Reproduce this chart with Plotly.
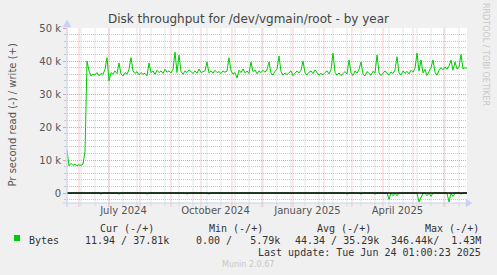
import plotly.graph_objects as go
import pandas as pd

# ---------------- data ----------------
range_start = "2024-05-20 01:00"
range_end = "2025-06-24 01:00"

# write (+) bytes/s in thousands, one value every 2 days from range_start
write_k = [
    13, 8.2, 9, 8.4, 8.7, 8.3, 8.6, 8.4, 8.8, 12.5,
    40, 37, 35.5, 36, 35.8, 36.5, 35.5, 36.2, 36, 37.5,
    41, 34, 36.5, 36, 37, 36.2, 39.4, 36, 35.5, 36.5,
    36, 37.5, 41, 37, 36.2, 36.8, 35.8, 36.5, 36, 36.3,
    35.5, 39.4, 36.5, 37, 36, 37.2, 36.5, 37, 36.2, 37.5,
    36.6, 37, 36.4, 37.5, 42.7, 36.5, 41.8, 36.8, 36, 37,
    36.5, 37.3, 36.8, 36.2, 37, 36.3, 37.6, 36.5, 36.8, 37,
    39.7, 36.4, 37, 36.3, 37.2, 36.5, 36.8, 36.2, 37, 36.6,
    36.9, 41, 37, 36, 36.5, 34.8, 37.2, 36.5, 37.6, 36.4,
    37, 36.2, 39.7, 36.8, 37.3, 36.1, 37, 36.5, 37.2, 36.6,
    37.4, 39.7, 36.3, 35.8, 36.9, 37.5, 41.5, 36.8, 35.7, 36.4,
    35.9, 36.6, 37, 35.6, 36.2, 37, 36.4, 37.2, 40, 36.4,
    35.8, 36.6, 37, 36.2, 37.3, 36.5, 35.7, 36.3, 35.8, 36.5,
    37, 36.1, 37.4, 42.4, 36.6, 35.7, 36.4, 35.6, 36.3, 36.8,
    36.1, 40.3, 36.5, 35.6, 37, 36.3, 37.5, 39.7, 36, 35.5,
    36.8, 36.2, 35.7, 36.9, 36.3, 41.8, 36.5, 35.6, 36.4, 37,
    36.2, 35.8, 36.7, 36.2, 37.3, 41.3, 36.4, 35.8, 37, 36.3,
    36.9, 36.1, 37.2, 36.6, 37.8, 42.4, 37, 40.3, 36.4, 37.5,
    35.6, 37.1, 38, 40.3, 36.6, 35.7, 37.2, 38, 37.3, 38.2,
    37.5, 38.5, 40.3, 37.2, 39.7, 37.6, 38, 42, 37.6, 38,
    37.8,
]

# read (-) bytes/s in thousands, same sampling
read_k = [
    0, 0, 0, 0, 0, 0, 0, 0, 0, 0,
    0, 0, 0, 0, 0, 0, 0, 0.3, 0, 0,
    0, 0, 0, 0, 0, 0, 0.3, 0, 0, 0,
    0, 0, 0, 0, 0, 0, 0, 0, 0, 0,
    0.3, 0, 0, 0, 0, 0, 0, 0, 0, 0,
    0, 0, 0, 0, 0, 0, 0, 0, 0, 0,
    0.3, 0, 0, 0, 0, 0, 0, 0, 0, 0,
    0, 0.3, 0, 0, 0, 0, 0, 0, 0, 0,
    0, 0, 0, 0, 0, 0, 0, 0, 0, 0,
    0, 0, 0, 0, 0, 0, 0, 0, 0, 0,
    0, 0, 0, 0, 0, 0, 0, 0, 0, 0,
    0, 0, 0, 0, 0, 0, 0, 0, 0, 0,
    0, 0, 0, 0, 0, 0, 0, 0, 0, 0,
    0, 0, 0, 0, 0, 0, 0, 0, 0, 0,
    0.3, 0, 0, 0, 0, 0, 0, 0.3, 0, 0,
    0, 0, 0, 0, 0.3, 0, 0, 0, 0, 0,
    0, 1.9, 0, 0.8, 0, 0.8, 0, 0, 0, 0,
    0, 0, 0, 0, 0, 0, 2.7, 1.5, 0, 0,
    0.8, 0, 1.0, 0, 0, 0, 0, 0, 0, 0,
    0, 2.7, 0, 1.0, 0, 0, 0, 0.3, 0, 0,
    0,
]

y_tickvals = [0, 10000, 20000, 30000, 40000, 50000]
y_ticktext = ["0", "10 k", "20 k", "30 k", "40 k", "50 k"]
x_tickvals = ["2024-07-15 12:00", "2024-10-15 12:00", "2025-01-15 12:00", "2025-04-15 12:00"]
x_ticktext = ["July 2024", "October 2024", "January 2025", "April 2025"]

month_lines = pd.date_range("2024-06-01", "2025-06-01", freq="MS")
minor_lines = pd.date_range("2024-06-03", "2025-06-24", freq="14D")

legend_head = ["Cur (-/+)", "Min (-/+)", "Avg (-/+)", "Max (-/+)"]
legend_vals = ["11.94 / 37.81k", "0.00 /   5.79k", "44.34 / 35.29k", "346.44k/  1.43M"]

# ---------------- geometry ----------------
W, H = 497, 275
L, R, T, B = 67, 30, 28, 72
PW, PH = W - L - R, H - T - B

def px(x):
    return (x - L) / PW

def py(y):
    return (H - B - y) / PH

dates = pd.date_range(start=range_start, periods=len(write_k), freq="2D")
green = "#00CC00"

fig = go.Figure()
fig.add_trace(go.Scatter(x=dates, y=[v * 1000 for v in write_k], mode="lines",
                         line=dict(color=green, width=1), hoverinfo="skip", showlegend=False))
fig.add_trace(go.Scatter(x=dates, y=[-v * 1000 for v in read_k], mode="lines",
                         line=dict(color=green, width=1), hoverinfo="skip", showlegend=False))

shapes = []
for d in minor_lines:
    shapes.append(dict(type="line", xref="x", yref="paper", x0=d, x1=d, y0=-0.02, y1=1,
                       line=dict(color="#C8C8C8", width=1, dash="1px,1px"), layer="below"))
for d in month_lines:
    shapes.append(dict(type="line", xref="x", yref="paper", x0=d, x1=d, y0=-0.02, y1=1,
                       line=dict(color="#E8A0A0", width=1, dash="1px,1px"), layer="below"))
# zero rule
shapes.append(dict(type="line", xref="paper", yref="y", x0=0, x1=1, y0=0, y1=0,
                   line=dict(color="#000000", width=1.5), layer="above"))
axis_col = "#C8D2F4"
# axes with arrows
shapes.append(dict(type="line", xref="paper", yref="paper", x0=px(63), x1=px(468), y0=0, y1=0,
                   line=dict(color=axis_col, width=1.2)))
shapes.append(dict(type="line", xref="paper", yref="paper", x0=0, x1=0, y0=py(207), y1=py(25),
                   line=dict(color=axis_col, width=1.2)))
shapes.append(dict(type="path", xref="paper", yref="paper",
                   path=f"M {px(472)},{py(203)} L {px(466)},{py(199)} L {px(466)},{py(207)} Z",
                   fillcolor=axis_col, line=dict(color=axis_col, width=0.5)))
shapes.append(dict(type="path", xref="paper", yref="paper",
                   path=f"M {px(67)},{py(20)} L {px(63)},{py(27)} L {px(71)},{py(27)} Z",
                   fillcolor=axis_col, line=dict(color=axis_col, width=0.5)))
# legend colour box
shapes.append(dict(type="rect", xref="paper", yref="paper", x0=px(14), x1=px(20), y0=py(241), y1=py(235),
                   fillcolor=green, line=dict(width=0)))

mono = "DejaVu Sans Mono"
sans = "DejaVu Sans"
txt_col = "#333333"

ann = []
def a(text, x, y, anchor="left", size=10, font=mono, color=txt_col, angle=0):
    ann.append(dict(text=text.replace(" ", "\u00a0"), x=px(x), y=py(y), xref="paper", yref="paper",
                    xanchor=anchor, yanchor="middle", showarrow=False, textangle=angle,
                    font=dict(family=font, size=size, color=color)))

for t, x in zip(legend_head, [98, 207, 315, 423]):
    a(t, x, 228)
a("Bytes", 27, 240)
a(legend_vals[0], 83, 240)
a(legend_vals[1], 194, 240)
a(legend_vals[2], 293, 240)
a(legend_vals[3], 483, 240, anchor="right")
a("Last update: Tue Jun 24 01:00:23 2025", 483, 252, anchor="right")
a("Munin 2.0.67", 248, 264, anchor="center", size=8, font=sans, color="#C8C8C8")
a("RRDTOOL / TOBI OETIKER", 486, 54, anchor="center", size=8, font=sans, color="#C8C8C8", angle=90)
a("Pr second read (-) / write (+)", 11.5, 115, anchor="center", size=10, font=sans, color="#555555", angle=-90)

fig.update_layout(
    width=W, height=H,
    margin=dict(l=L, r=R, t=T, b=B, pad=0),
    paper_bgcolor="#F0F0F0", plot_bgcolor="#FFFFFF",
    title=dict(text="Disk throughput for /dev/vgmain/root - by year", x=0.5, xanchor="center",
               y=1 - 19 / H, yanchor="middle", yref="container",
               font=dict(family=sans, size=12, color="#444444")),
    shapes=shapes, annotations=ann,
    xaxis=dict(type="date", range=[range_start, range_end], showgrid=False, zeroline=False,
               showline=False, tickvals=x_tickvals, ticktext=x_ticktext, ticks="",
               tickfont=dict(family=sans, size=10, color="#555555"), fixedrange=True),
    yaxis=dict(range=[-3000, 50000], tickvals=y_tickvals, ticktext=y_ticktext,
               showgrid=True, gridcolor="#E8A0A0", griddash="1px,1px", gridwidth=1,
               zeroline=False, showline=False, ticks="outside", ticklen=3, tickcolor="#E8A0A0",
               tickfont=dict(family=sans, size=10, color="#555555"),
               minor=dict(dtick=2000, tick0=0, showgrid=True, gridcolor="#C8C8C8",
                          griddash="1px,1px", ticks="outside", ticklen=2, tickcolor="#C8C8C8"),
               fixedrange=True),
)

fig.write_html("out.html")
